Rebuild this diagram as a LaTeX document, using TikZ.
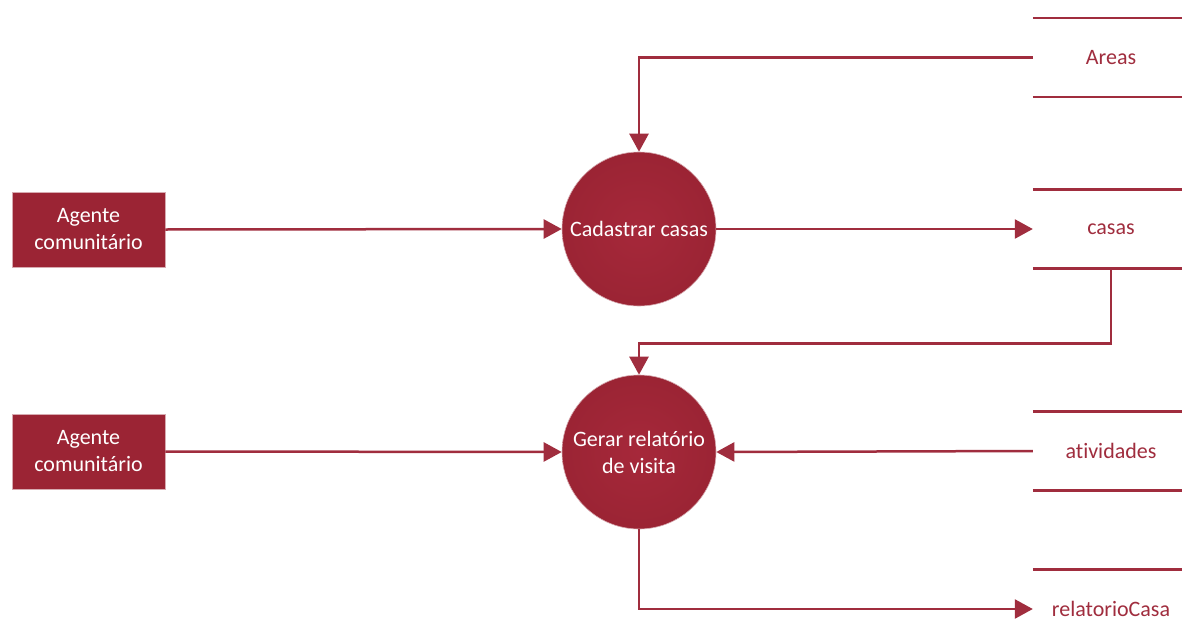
\documentclass[tikz,border=0pt]{standalone}
\usepackage{fontspec}
\setmainfont[Ligatures={NoCommon}]{Carlito}
\usetikzlibrary{arrows.meta}
\definecolor{dred}{RGB}{155,36,52}
\definecolor{dredlight}{RGB}{166,40,58}
\definecolor{lred}{RGB}{160,45,62}
\definecolor{edge}{RGB}{215,170,176}
\tikzset{
  entity/.style={rectangle, fill=dred, draw=edge, line width=0.8pt, minimum width=153pt, minimum height=75pt, text=white, align=center, font=\fontsize{22}{27}\selectfont, inner sep=0pt},
  proc/.style={circle, inner color=dredlight, outer color=dred, draw=edge, line width=0.6pt, minimum size=154pt, text=white, align=center, font=\fontsize{22}{27}\selectfont, inner sep=0pt},
  store/.style={rectangle, minimum width=156pt, minimum height=79pt, text=lred, font=\fontsize{22}{27}\selectfont, inner sep=0pt},
  storeline/.style={draw=lred, line width=2.5pt},
  flow/.style={draw=lred, line width=2.5pt, -{Triangle[length=18pt,width=19pt]}},
  plain/.style={draw=lred, line width=2.5pt}
}
\begin{document}
\begin{tikzpicture}[x=1pt,y=-1pt]
\clip (0,0) rectangle (1182,642);
\fill[white] (0,0) rectangle (1182,642);

\node[entity] (a1) at (88.5,229.5) {Agente\\comunitário};
\node[entity] (a2) at (88.5,451.5) {Agente\\comunitário};

\node[proc] (p1) at (639,229) {Cadastrar casas};
\node[proc] (p2) at (639,452) {Gerar relatório\\de visita};

\node[store] (s1) at (1111,57.5) {Areas};
\node[store] (s2) at (1111,229) {casas};
\node[store] (s3) at (1111,451) {atividades};
\node[store] (s4) at (1111,609) {relatorioCasa};

\foreach \s in {s1,s2,s3,s4}{
  \draw[storeline] (\s.north west) -- (\s.north east);
  \draw[storeline] (\s.south west) -- (\s.south east);
}

\draw[flow] (s1.west) -| (p1.north);
\draw[flow] (a1.east) -- (p1.west);
\draw[flow] (p1.east) -- (s2.west);
\draw[flow] (s2.south) -- ++(0,75) -| (p2.north);
\draw[flow] (a2.east) -- (p2.west);
\draw[flow] (s3.west) -- (p2.east);
\draw[flow] (p2.south) |- (s4.west);
\end{tikzpicture}
\end{document}
